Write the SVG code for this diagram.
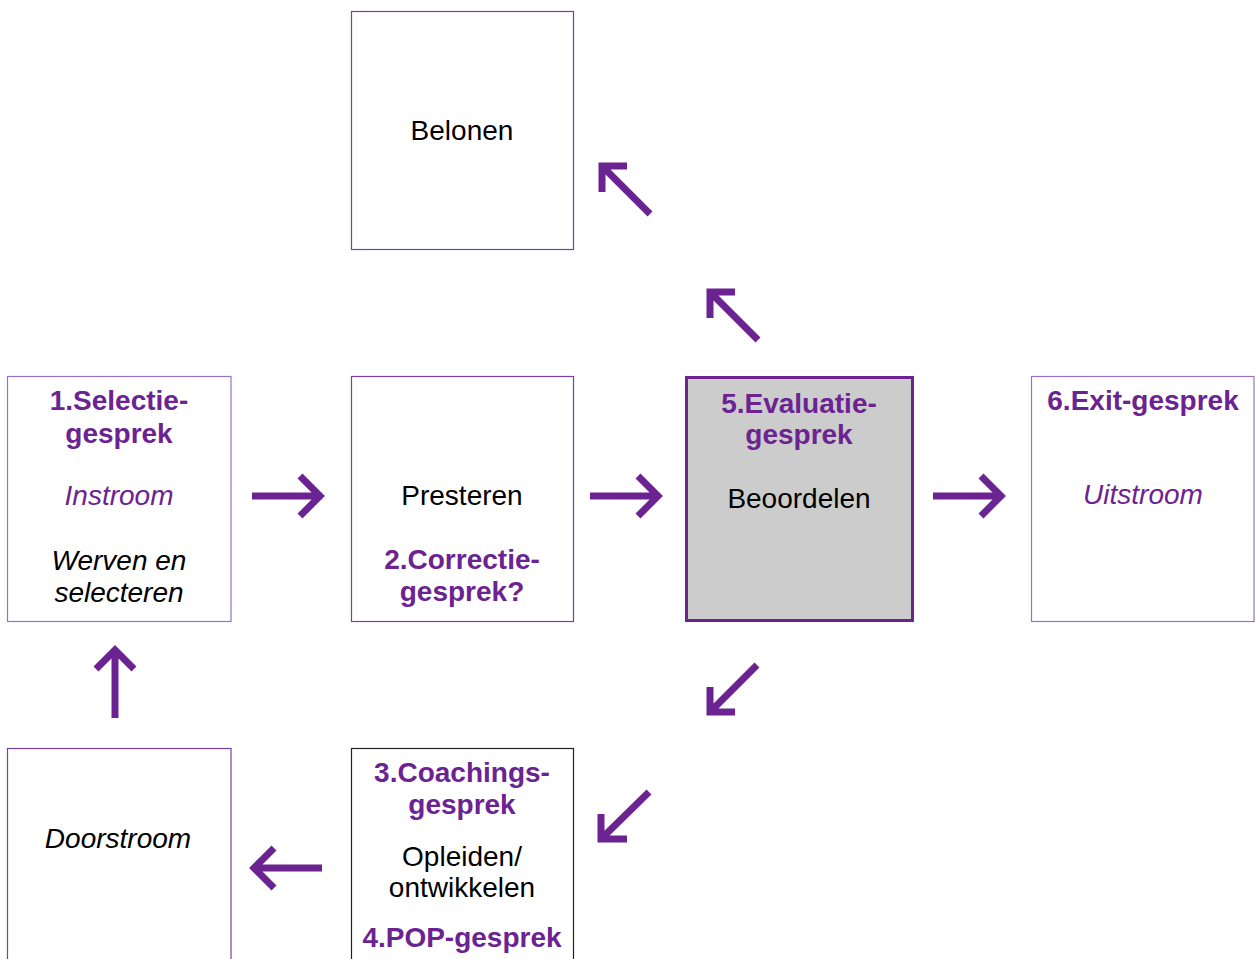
<svg xmlns="http://www.w3.org/2000/svg" width="1255" height="959" viewBox="0 0 1255 959">
<style>
.box{fill:#ffffff;stroke:#7a3ea8;stroke-width:1.2}
.t{font-family:"Liberation Sans",Arial,sans-serif;font-size:28px;text-anchor:middle;fill:#000}
.b{font-weight:bold;fill:#6b2392}
.i{font-style:italic}
.p{fill:#6b2392}
.arr{fill:none;stroke:#6b2392;stroke-width:7;stroke-linejoin:miter;stroke-linecap:butt}
</style>
<rect width="1255" height="959" fill="#ffffff"/>
<g id="node-belonen">
<rect class="box" x="351.5" y="11.5" width="222" height="238"/>
<text class="t" x="462" y="140">Belonen</text>
</g>
<g id="node-selectie">
<rect class="box" x="7.5" y="376.5" width="223.5" height="245" style="stroke:#9b6fcc"/>
<text class="t b" x="119" y="410">1.Selectie-</text>
<text class="t b" x="119" y="443">gesprek</text>
<text class="t i p" x="119" y="505">Instroom</text>
<text class="t i" x="119" y="570">Werven en</text>
<text class="t i" x="119" y="602">selecteren</text>
</g>
<g id="node-presteren">
<rect class="box" x="351.5" y="376.5" width="222" height="245"/>
<text class="t" x="462" y="505">Presteren</text>
<text class="t b" x="462" y="569">2.Correctie-</text>
<text class="t b" x="462" y="601">gesprek?</text>
</g>
<g id="node-evaluatie">
<rect x="686.5" y="377.5" width="226" height="243" fill="#cccccc" stroke="#6b2392" stroke-width="3"/>
<text class="t b" x="799" y="413">5.Evaluatie-</text>
<text class="t b" x="799" y="444">gesprek</text>
<text class="t" x="799" y="508">Beoordelen</text>
</g>
<g id="node-exit">
<rect class="box" x="1031.5" y="376.5" width="222.5" height="245" style="stroke:#9b6fcc"/>
<text class="t b" x="1143" y="410">6.Exit-gesprek</text>
<text class="t i p" x="1143" y="504">Uitstroom</text>
</g>
<g id="node-doorstroom">
<rect class="box" x="7.5" y="748.5" width="223.5" height="220"/>
<text class="t i" x="118" y="848">Doorstroom</text>
</g>
<g id="node-coaching">
<rect x="351.5" y="748.5" width="222" height="220" fill="#ffffff" stroke="#222222" stroke-width="1.2"/>
<text class="t b" x="462" y="782">3.Coachings-</text>
<text class="t b" x="462" y="814">gesprek</text>
<text class="t" x="462" y="866">Opleiden/</text>
<text class="t" x="462" y="897">ontwikkelen</text>
<text class="t b" x="462" y="947">4.POP-gesprek</text>
</g>
<g id="connectors">
<path class="arr" d="M252,496 H320 M300,476 L320,496 L300,516"/>
<path class="arr" d="M590,496 H658 M638,476 L658,496 L638,516"/>
<path class="arr" d="M933,496 H1001 M981,476 L1001,496 L981,516"/>
<path class="arr" d="M322,868 H254 M274,848 L254,868 L274,888"/>
<path class="arr" d="M115,718 V650 M96,669 L115,650 L134,669"/>
<path class="arr" d="M650,214 L602,166 M627,166 H602 V192"/>
<path class="arr" d="M758,340 L710,292 M735,292 H710 V318"/>
<path class="arr" d="M757,665 L710,712 M710,687 V712 H735"/>
<path class="arr" d="M649,792 L601,839 M601,814 V839 H627"/>
</g>
</svg>
